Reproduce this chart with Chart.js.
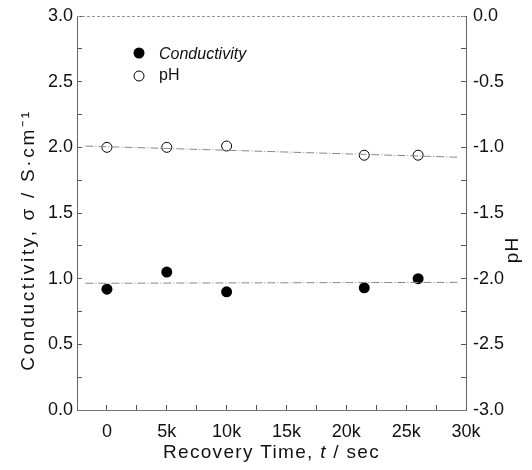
<!DOCTYPE html>
<html><head><meta charset="utf-8">
<script src="https://cdn.jsdelivr.net/npm/chart.js@4"></script>
<style>html,body{margin:0;padding:0;background:#fff}#wrap{width:532px;height:470px}</style>
</head><body><div id="wrap"><canvas id="c" width="532" height="470"></canvas></div>
<script>
// ---- data ----
const recoveryTime = [0, 5000, 10000, 21500, 26000];
const conductivity = [0.92, 1.05, 0.90, 0.93, 1.00];
const pHValues = [-1.00, -1.00, -0.99, -1.06, -1.06];
const fitTime = [-1800, 29300];
const conductivityFit = [0.965, 0.972];
const pHFit = [-0.99, -1.075];
const xTickValues = [0, 5000, 10000, 15000, 20000, 25000, 30000];
const xTickLabels = ['0', '5k', '10k', '15k', '20k', '25k', '30k'];
const leftTickValues = [0, 0.5, 1.0, 1.5, 2.0, 2.5, 3.0];
const leftTickLabels = ['0.0', '0.5', '1.0', '1.5', '2.0', '2.5', '3.0'];
const rightTickValues = [-3, -2.5, -2, -1.5, -1, -0.5, 0];
const rightTickLabels = ['-3.0', '-2.5', '-2.0', '-1.5', '-1.0', '-0.5', '0.0'];
const seriesNames = ['Conductivity', 'pH'];
const xTitle = ['Recovery Time, ', 't', ' / sec'];
const yTitle = 'Conductivity, \u03c3 / S\u00b7cm\u207b\u00b9';
const y2Title = 'pH';

const FONT = '"Liberation Sans", Arial, sans-serif';
function lookup(vals, labels, v) {
  for (let i = 0; i < vals.length; i++) if (Math.abs(vals[i] - v) < 1e-6) return labels[i];
  return '';
}
const pts = (xs, ys) => xs.map((x, i) => ({x, y: ys[i]}));

const overlay = {
  id: 'overlay',
  beforeDatasetsDraw(chart) {
    const {ctx, chartArea: a} = chart;
    ctx.save();
    ctx.strokeStyle = '#999';
    ctx.lineWidth = 1;
    ctx.setLineDash([3, 2]);
    ctx.beginPath();
    ctx.moveTo(a.left, a.top + 0.5);
    ctx.lineTo(a.right, a.top + 0.5);
    ctx.stroke();
    ctx.restore();
  },
  afterDraw(chart) {
    const {ctx, chartArea: a} = chart;
    ctx.save();
    ctx.fillStyle = '#111';
    ctx.textBaseline = 'middle';
    // x title with italic t
    ctx.letterSpacing = '1.3px';
    const fN = '19px ' + FONT, fI = 'italic 19px ' + FONT;
    ctx.font = fN; const w0 = ctx.measureText(xTitle[0]).width, w2 = ctx.measureText(xTitle[2]).width;
    ctx.font = fI; const w1 = ctx.measureText(xTitle[1]).width;
    let x = (a.left + a.right) / 2 - (w0 + w1 + w2) / 2;
    const ty = 453;
    ctx.textAlign = 'left';
    ctx.font = fN; ctx.fillText(xTitle[0], x, ty); x += w0;
    ctx.font = fI; ctx.fillText(xTitle[1], x, ty); x += w1;
    ctx.font = fN; ctx.fillText(xTitle[2], x, ty);
    // left title
    ctx.save();
    ctx.letterSpacing = '2.7px';
    ctx.translate(29, 240);
    ctx.rotate(-Math.PI / 2);
    ctx.textAlign = 'center';
    ctx.font = fN;
    ctx.fillText(yTitle, 0, 0);
    ctx.restore();
    // right title
    ctx.save();
    ctx.letterSpacing = '1px';
    ctx.translate(513, 250);
    ctx.rotate(-Math.PI / 2);
    ctx.textAlign = 'center';
    ctx.font = fN;
    ctx.fillText(y2Title, 0, 0);
    ctx.restore();
    ctx.letterSpacing = '0px';
    // legend
    ctx.beginPath(); ctx.arc(139, 53, 5.5, 0, Math.PI * 2); ctx.fillStyle = '#000'; ctx.fill();
    ctx.beginPath(); ctx.arc(139, 76, 5, 0, Math.PI * 2); ctx.fillStyle = '#fff'; ctx.fill();
    ctx.strokeStyle = '#000'; ctx.lineWidth = 1; ctx.stroke();
    ctx.fillStyle = '#111'; ctx.textAlign = 'left';
    ctx.font = 'italic 16px ' + FONT; ctx.fillText(seriesNames[0], 159, 55);
    ctx.font = '16px ' + FONT; ctx.fillText(seriesNames[1], 159, 76);
    ctx.restore();
  }
};

const fixV = w => s => { s.width = w; s.paddingTop = 0; s.paddingBottom = 0; };

new Chart(document.getElementById('c'), {
  type: 'scatter',
  data: {
    datasets: [
      {label: 'Conductivity fit', type: 'line', data: pts(fitTime, conductivityFit), yAxisID: 'y',
       borderColor: '#888', borderWidth: 1, borderDash: [8, 2, 1, 2], pointRadius: 0, fill: false},
      {label: 'pH fit', type: 'line', data: pts(fitTime, pHFit), yAxisID: 'y2',
       borderColor: '#888', borderWidth: 1, borderDash: [8, 2, 1, 2], pointRadius: 0, fill: false},
      {label: seriesNames[0], data: pts(recoveryTime, conductivity), yAxisID: 'y',
       pointRadius: 5.5, pointBackgroundColor: '#000', pointBorderColor: '#000', pointBorderWidth: 0},
      {label: seriesNames[1], data: pts(recoveryTime, pHValues), yAxisID: 'y2',
       pointRadius: 5, pointBackgroundColor: 'rgba(255,255,255,0)', pointBorderColor: '#000', pointBorderWidth: 1}
    ]
  },
  options: {
    responsive: false, animation: false, devicePixelRatio: 1,
    layout: {padding: {top: 16, left: 0, right: 0, bottom: 0}},
    plugins: {legend: {display: false}, tooltip: {enabled: false}},
    scales: {
      x: {
        type: 'linear', position: 'bottom', min: -2500, max: 30000,
        afterFit: s => { s.height = 60; s.paddingLeft = 0; s.paddingRight = 0; },
        ticks: {stepSize: 2500, autoSkip: false, maxRotation: 0, padding: 16, color: '#111',
                font: {family: FONT, size: 18},
                callback: v => lookup(xTickValues, xTickLabels, v)},
        grid: {drawOnChartArea: false, drawTicks: true, tickLength: -5, color: '#555'},
        border: {display: true, color: '#777', width: 1}
      },
      y: {
        type: 'linear', position: 'left', min: 0, max: 3,
        afterFit: fixV(77),
        ticks: {stepSize: 0.25, autoSkip: false, padding: 9, color: '#111',
                font: {family: FONT, size: 18},
                callback: v => lookup(leftTickValues, leftTickLabels, v)},
        grid: {drawOnChartArea: false, drawTicks: true, tickLength: -5, color: '#555'},
        border: {display: true, color: '#666', width: 1}
      },
      y2: {
        type: 'linear', position: 'right', min: -3, max: 0,
        afterFit: fixV(66),
        ticks: {stepSize: 0.25, autoSkip: false, padding: 12, color: '#111',
                font: {family: FONT, size: 18},
                callback: v => lookup(rightTickValues, rightTickLabels, v)},
        grid: {drawOnChartArea: false, drawTicks: true, tickLength: -5, color: '#555'},
        border: {display: true, color: '#666', width: 1}
      }
    }
  },
  plugins: [overlay]
});
</script></body></html>
